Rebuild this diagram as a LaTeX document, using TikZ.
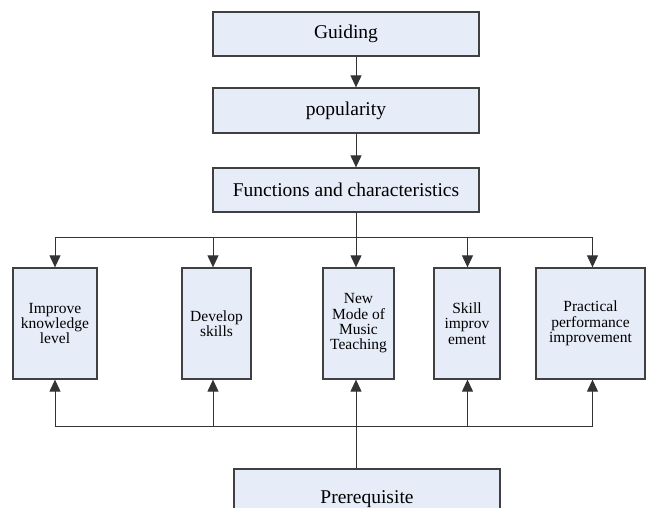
\documentclass[tikz,border=0pt]{standalone}
\usepackage{fontspec}
\setmainfont{Liberation Serif}
\usetikzlibrary{arrows.meta}
\definecolor{boxfill}{HTML}{E6ECF8}
\begin{document}
\begin{tikzpicture}[x=1pt,y=-1pt,
    box/.style={draw=black!75, line width=1.3pt, fill=boxfill, inner sep=0pt,
      align=center, font=\fontsize{19.5}{22}\selectfont},
    tallbox/.style={box, minimum height=111pt, font=\fontsize{15.5}{15.3}\selectfont},
    link/.style={draw=black!80, line width=1pt},
    arr/.style={link, -{Triangle[length=12pt,width=11pt]}}]
  \useasboundingbox (0,0) rectangle (646,508);
  \clip (0,0) rectangle (646,508);

  % top chain
  \node[box, minimum width=266pt, minimum height=44pt] (guide) at (346,34) {Guiding};
  \node[box, minimum width=266pt, minimum height=45pt] (pop) at (346,110.5) {popularity};
  \node[box, minimum width=266pt, minimum height=44pt] (func) at (346,190) {Functions and characteristics};

  % lower row
  \node[tallbox, minimum width=84pt] (know) at (55,323.5) {Improve\\knowledge\\level};
  \node[tallbox, minimum width=69pt] (dev) at (216.5,323.5) {Develop\\skills};
  \node[tallbox, minimum width=71pt] (mode) at (358.5,323.5) {New\\Mode of\\Music\\Teaching};
  \node[tallbox, minimum width=66pt] (skill) at (467,323.5) {Skill\\improv\\ement};
  \node[tallbox, minimum width=109pt] (prac) at (590.5,323.5) {Practical\\performance\\improvement};

  \node[box, minimum width=266pt, minimum height=60pt] (pre) at (367,499) {Prerequisite};

  % bus points
  \coordinate (mid) at (356,0);
  \coordinate (t1) at (55,238);
  \coordinate (t2) at (213,238);
  \coordinate (t3) at (356,238);
  \coordinate (t4) at (467.5,238);
  \coordinate (t5) at (592.5,238);
  \coordinate (b1) at (55,426);
  \coordinate (b2) at (213,426);
  \coordinate (b3) at (356,426);
  \coordinate (b4) at (467.5,426);
  \coordinate (b5) at (592.5,426);

  \draw[arr] (guide.south -| mid) -- (pop.north -| mid);
  \draw[arr] (pop.south -| mid) -- (func.north -| mid);
  \draw[link] (func.south -| mid) -- (t3);
  \draw[link] (t1) -- (t5);

  \draw[arr] (t1) -- (t1 |- know.north);
  \draw[arr] (t2) -- (t2 |- dev.north);
  \draw[arr] (t3) -- (t3 |- mode.north);
  \draw[arr] (t4) -- (t4 |- skill.north);
  \draw[arr] (t5) -- (t5 |- prac.north);

  \draw[link] (b1) -- (b5);
  \draw[link] (pre.north -| mid) -- (b3);
  \draw[arr] (b1) -- (b1 |- know.south);
  \draw[arr] (b2) -- (b2 |- dev.south);
  \draw[arr] (b3) -- (b3 |- mode.south);
  \draw[arr] (b4) -- (b4 |- skill.south);
  \draw[arr] (b5) -- (b5 |- prac.south);
\end{tikzpicture}
\end{document}
